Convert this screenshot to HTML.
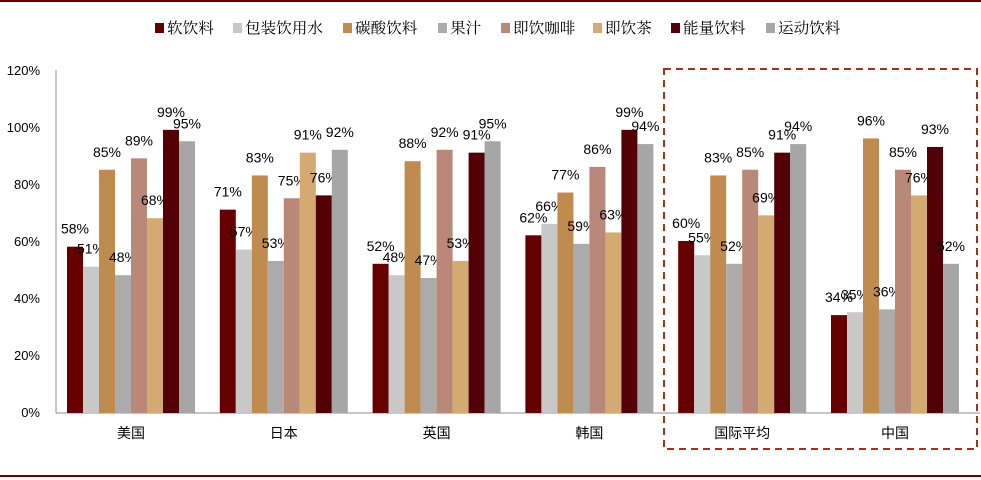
<!DOCTYPE html>
<html><head><meta charset="utf-8"><style>
body{margin:0;background:#fff}
svg{display:block;font-family:"Liberation Sans","Noto Sans CJK SC",sans-serif}
</style></head><body>
<svg width="981" height="480" viewBox="0 0 981 480" xmlns="http://www.w3.org/2000/svg">
<line x1="0" y1="1" x2="981" y2="1" stroke="#6b0000" stroke-width="2"/>
<line x1="0" y1="476" x2="981" y2="476" stroke="#6b0000" stroke-width="2"/>
<g id="legend" font-size="15" fill="#000" style="font-family:'Liberation Serif','Noto Serif CJK SC',serif"></g>
<g id="yax" font-size="13" text-anchor="end"></g>
<line x1="56" y1="70" x2="56" y2="413" stroke="#8c8c8c"/>
<line x1="56" y1="413" x2="980" y2="413" stroke="#8c8c8c"/>
<g id="bars"></g>
<rect x="664" y="69" width="313" height="380" fill="none" stroke="#a0321e" stroke-width="2" stroke-dasharray="7,5"/>
</svg>
<script>
const NS="http://www.w3.org/2000/svg";
function el(p,t,a,txt){const e=document.createElementNS(NS,t);for(const k in a)e.setAttribute(k,a[k]);if(txt!=null)e.textContent=txt;p.appendChild(e);return e;}
const cols=["#660000","#c8c8c8","#bf8b4e","#ababab","#b98878","#d4aa72","#520006","#a6a6a6"];
const names=["软饮料","包装饮用水","碳酸饮料","果汁","即饮咖啡","即饮茶","能量饮料","运动饮料"];
const lx=[155,233,343,438,501,593,671,766];
const lg=document.getElementById("legend");
names.forEach((n,i)=>{el(lg,"rect",{x:lx[i],y:23,width:9,height:10,fill:cols[i]});el(lg,"text",{x:lx[i]+12,y:33,textLength:n.length*15.6,lengthAdjust:"spacingAndGlyphs"},n);});
const ya=document.getElementById("yax");
for(let v=0;v<=120;v+=20){el(ya,"text",{x:40,y:412-v*2.85+5},v+"%");}
const data=[["美国",[58,51,85,48,89,68,99,95]],["日本",[71,57,83,53,75,91,76,92]],["英国",[52,48,88,47,92,53,91,95]],["韩国",[62,66,77,59,86,63,99,94]],["国际平均",[60,55,83,52,85,69,91,94]],["中国",[34,35,96,36,85,76,93,52]]];
const b=document.getElementById("bars");
data.forEach((g,gi)=>{const x0=67+gi*152.8;
g[1].forEach((v,i)=>{const x=x0+i*16,t=412-v*2.85;
el(b,"rect",{x:x,y:t,width:16,height:413-t,fill:cols[i]});
el(b,"text",{x:x+8,y:t-13,"font-size":14,"text-anchor":"middle"},v+"%");});
el(b,"text",{x:x0+64,y:438,"font-size":14,"text-anchor":"middle"},g[0]);});
</script>
</body></html>
